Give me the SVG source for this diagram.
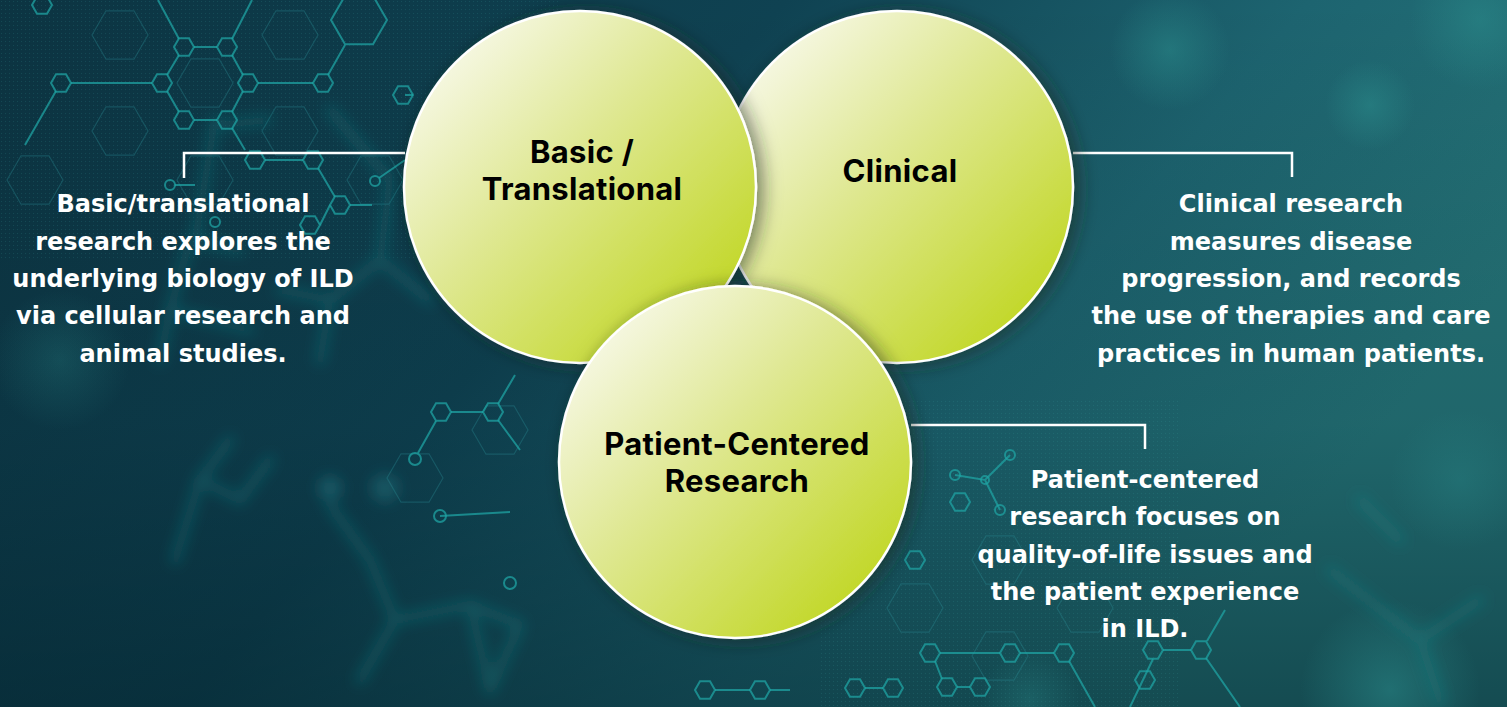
<svg xmlns="http://www.w3.org/2000/svg" xmlns:xlink="http://www.w3.org/1999/xlink" width="1507" height="707" viewBox="0 0 1507 707">
<defs>
<linearGradient id="bg" x1="0" y1="0" x2="1" y2="0.4">
<stop offset="0" stop-color="#0c3442"/>
<stop offset="0.45" stop-color="#0f4252"/>
<stop offset="0.75" stop-color="#1d6470"/>
<stop offset="1" stop-color="#257478"/>
</linearGradient>
<linearGradient id="bgShade" x1="0" y1="0" x2="0" y2="1">
<stop offset="0" stop-color="#000" stop-opacity="0"/>
<stop offset="0.6" stop-color="#001a22" stop-opacity="0.15"/>
<stop offset="1" stop-color="#001a22" stop-opacity="0.45"/>
</linearGradient>
<radialGradient id="glow" cx="0.5" cy="0.5" r="0.5">
<stop offset="0" stop-color="#2a8a8a" stop-opacity="0.55"/>
<stop offset="1" stop-color="#2a8a8a" stop-opacity="0"/>
</radialGradient>
<linearGradient id="ball" x1="0.1" y1="0.1" x2="0.85" y2="0.85">
<stop offset="0" stop-color="#f8f9ea"/>
<stop offset="0.45" stop-color="#dfe893"/>
<stop offset="1" stop-color="#c3d82c"/>
</linearGradient>
<filter id="shadow" x="-20%" y="-20%" width="140%" height="140%">
<feDropShadow dx="6" dy="2" stdDeviation="9" flood-color="#1a2a20" flood-opacity="0.55"/>
</filter>
<filter id="blur" x="-20%" y="-20%" width="140%" height="140%">
<feGaussianBlur stdDeviation="7"/>
</filter>
<path id="hx" d="M-10,0 L-5,-8.66 L5,-8.66 L10,0 L5,8.66 L-5,8.66Z"/>
<path id="hxL" d="M-28,0 L-14,-24.2 L14,-24.2 L28,0 L14,24.2 L-14,24.2Z"/>
<pattern id="dots" width="4" height="4" patternUnits="userSpaceOnUse">
<rect x="1" y="1" width="1" height="1" fill="#3aa0a0" fill-opacity="0.18"/>
</pattern>
</defs>
<style>
.bgline{fill:none;stroke:#1fa3a3;stroke-width:2;stroke-opacity:0.75}
.bgfaint{fill:none;stroke:#2a8c95;stroke-width:1.2;stroke-opacity:0.35}
.blob{fill:none;stroke:#1f8c90;stroke-width:10;stroke-opacity:0.3;stroke-linecap:round}
.circle{fill:url(#ball);stroke:#ffffff;stroke-width:2.5}
.label{font-family:Inter,Roboto,"Liberation Sans",sans-serif;font-weight:700;font-size:31px;fill:#000;text-anchor:middle;letter-spacing:0.3px}
.desc{font-family:"DejaVu Sans","Open Sans",sans-serif;font-weight:700;font-size:24px;fill:#ffffff;text-anchor:middle}
.conn{fill:none;stroke:#ffffff;stroke-width:2.5}
</style>

<!-- background -->
<rect width="1507" height="707" fill="url(#bg)"/>
<rect width="1507" height="707" fill="url(#bgShade)"/>
<circle cx="1170" cy="50" r="60" fill="url(#glow)"/>
<circle cx="1370" cy="105" r="45" fill="url(#glow)"/>
<circle cx="1480" cy="20" r="70" fill="url(#glow)"/>
<circle cx="1390" cy="690" r="90" fill="url(#glow)"/>
<circle cx="1460" cy="480" r="70" fill="url(#glow)" opacity="0.6"/>
<circle cx="60" cy="360" r="70" fill="url(#glow)" opacity="0.5"/>
<circle cx="1030" cy="700" r="50" fill="url(#glow)" opacity="0.6"/>
<rect x="0" y="0" width="560" height="260" fill="url(#dots)"/>
<rect x="820" y="400" width="360" height="307" fill="url(#dots)"/>

<!-- faint large hex grid -->
<g class="bgfaint">
<use xlink:href="#hxL" x="205" y="83"/>
<use xlink:href="#hxL" x="120" y="35"/>
<use xlink:href="#hxL" x="290" y="35"/>
<use xlink:href="#hxL" x="120" y="131"/>
<use xlink:href="#hxL" x="290" y="131"/>
<use xlink:href="#hxL" x="205" y="180"/>
<use xlink:href="#hxL" x="375" y="180"/>
<use xlink:href="#hxL" x="35" y="180"/>
<use xlink:href="#hxL" x="1000" y="560"/>
<use xlink:href="#hxL" x="1085" y="608"/>
<use xlink:href="#hxL" x="1000" y="656"/>
<use xlink:href="#hxL" x="915" y="608"/>
<use xlink:href="#hxL" x="500" y="430"/>
<use xlink:href="#hxL" x="415" y="478"/>
</g>

<!-- blurry molecules -->
<g filter="url(#blur)">
<path class="blob" d="M215,120 L195,240 M190,240 L170,310 M220,125 L268,120 M195,240 L240,250 M170,310 L160,360 M170,310 L250,330"/>
<path class="blob" d="M330,110 L390,180 M390,180 L380,260 M380,260 L430,300 M380,260 L330,300 M330,300 L280,290 M330,300 L320,360"/>
<path class="blob" d="M330,505 L370,560 M395,620 L470,605 L520,625 M395,620 L370,560 M395,620 L360,680 M470,605 L490,690 M520,625 L490,690"/>
<path class="blob" d="M230,440 L200,480 L240,500 L270,460 M200,480 L175,560"/>
<path class="blob" d="M1330,570 L1420,640 L1480,600 M1420,640 L1440,700 M1360,500 L1400,540"/>
<circle cx="330" cy="488" r="12" fill="#1f7c84" fill-opacity="0.45"/>
<circle cx="385" cy="488" r="14" fill="#2a8a90" fill-opacity="0.35"/>
</g>

<!-- sharp molecules -->
<g class="bgline">
<use xlink:href="#hx" x="184" y="47"/>
<use xlink:href="#hx" x="227" y="47"/>
<use xlink:href="#hx" x="162" y="83"/>
<use xlink:href="#hx" x="248" y="83"/>
<use xlink:href="#hx" x="184" y="120"/>
<use xlink:href="#hx" x="227" y="120"/>
<use xlink:href="#hx" x="61" y="83"/>
<use xlink:href="#hx" x="323" y="83"/>
<use xlink:href="#hx" x="403" y="95"/>
<use xlink:href="#hx" x="42" y="5"/>
<use xlink:href="#hxL" x="359" y="20"/>
<path d="M194,47 L217,47 M232,55 L243,75 M243,91 L232,112 M217,120 L194,120 M179,112 L167,91 M167,75 L179,55"/>
<path d="M71,83 L152,83 M258,83 L313,83 M328,75 L345,45 M179,39 L158,0 M232,39 L252,0 M56,91 L25,145 M413,95 L405,95 M232,128 L245,150"/>
<use xlink:href="#hx" x="255" y="160"/>
<use xlink:href="#hx" x="313" y="160"/>
<use xlink:href="#hx" x="340" y="205"/>
<use xlink:href="#hx" x="310" y="225"/>
<path d="M265,160 L303,160 M318,168 L335,197 M330,205 L320,225 M350,205 L372,205"/>
<circle cx="375" cy="181" r="5"/>
<circle cx="170" cy="185" r="5"/>
<circle cx="215" cy="222" r="5"/>
<path d="M379,178 L405,160 M175,185 L195,185"/>
<use xlink:href="#hx" x="441" y="412"/>
<use xlink:href="#hx" x="493" y="412"/>
<circle cx="415" cy="459" r="6"/>
<circle cx="440" cy="516" r="6"/>
<circle cx="510" cy="583" r="6"/>
<path d="M451,412 L483,412 M436,421 L418,453 M498,404 L515,375 M440,516 L510,512 M498,420 L520,450"/>
<!-- bottom center chain -->
<use xlink:href="#hx" x="930" y="653"/>
<use xlink:href="#hx" x="1010" y="653"/>
<use xlink:href="#hx" x="1064" y="653"/>
<use xlink:href="#hx" x="947" y="687"/>
<use xlink:href="#hx" x="980" y="687"/>
<use xlink:href="#hx" x="1153" y="650"/>
<use xlink:href="#hx" x="1201" y="650"/>
<path d="M940,653 L1000,653 M1020,653 L1054,653 M1163,650 L1191,650 M935,661 L942,679 M957,687 L970,687 M1069,661 L1095,707 M1153,659 L1130,707 M1206,658 L1240,707 M1207,641 L1225,610"/>
<use xlink:href="#hx" x="705" y="690"/>
<use xlink:href="#hx" x="760" y="690"/>
<use xlink:href="#hx" x="855" y="688"/>
<use xlink:href="#hx" x="893" y="688"/>
<path d="M715,690 L750,690 M865,688 L883,688 M770,690 L790,690"/>
<use xlink:href="#hx" x="960" y="502"/>
<circle cx="955" cy="475" r="5"/>
<circle cx="1010" cy="455" r="5"/>
<circle cx="985" cy="480" r="4"/>
<circle cx="1000" cy="510" r="5"/>
<path d="M955,475 L985,480 L1010,455 M985,480 L1000,510"/>
<use xlink:href="#hx" x="915" y="560"/>
<use xlink:href="#hx" x="1145" y="680"/>
</g>

<!-- connectors -->
<g id="connectors">
<path class="conn" d="M405,153 L184,153 L184,178"/>
<path class="conn" d="M1073,153 L1292,153 L1292,177"/>
<path class="conn" d="M911,425 L1145,425 L1145,449"/>
</g>

<!-- nodes -->
<g id="node-clinical">
<circle class="circle" cx="897" cy="187" r="176" filter="url(#shadow)"/>
<text class="label" x="900" y="182">Clinical</text>
</g>
<g id="node-basic">
<circle class="circle" cx="580" cy="187" r="176" filter="url(#shadow)"/>
<text class="label" x="582" y="163">Basic /</text>
<text class="label" x="582" y="200">Translational</text>
</g>
<g id="node-patient">
<circle class="circle" cx="735" cy="462" r="176" filter="url(#shadow)"/>
<text class="label" x="737" y="455">Patient-Centered</text>
<text class="label" x="737" y="492">Research</text>
</g>

<g id="desc-basic">
<text class="desc" x="183" y="212">Basic/translational</text>
<text class="desc" x="183" y="250">research explores the</text>
<text class="desc" x="183" y="287">underlying biology of ILD</text>
<text class="desc" x="183" y="324">via cellular research and</text>
<text class="desc" x="183" y="362">animal studies.</text>
</g>
<g id="desc-clinical">
<text class="desc" x="1291" y="212">Clinical research</text>
<text class="desc" x="1291" y="250">measures disease</text>
<text class="desc" x="1291" y="287">progression, and records</text>
<text class="desc" x="1291" y="324">the use of therapies and care</text>
<text class="desc" x="1291" y="362">practices in human patients.</text>
</g>
<g id="desc-patient">
<text class="desc" x="1145" y="488">Patient-centered</text>
<text class="desc" x="1145" y="525">research focuses on</text>
<text class="desc" x="1145" y="563">quality-of-life issues and</text>
<text class="desc" x="1145" y="600">the patient experience</text>
<text class="desc" x="1145" y="637">in ILD.</text>
</g>
</svg>
